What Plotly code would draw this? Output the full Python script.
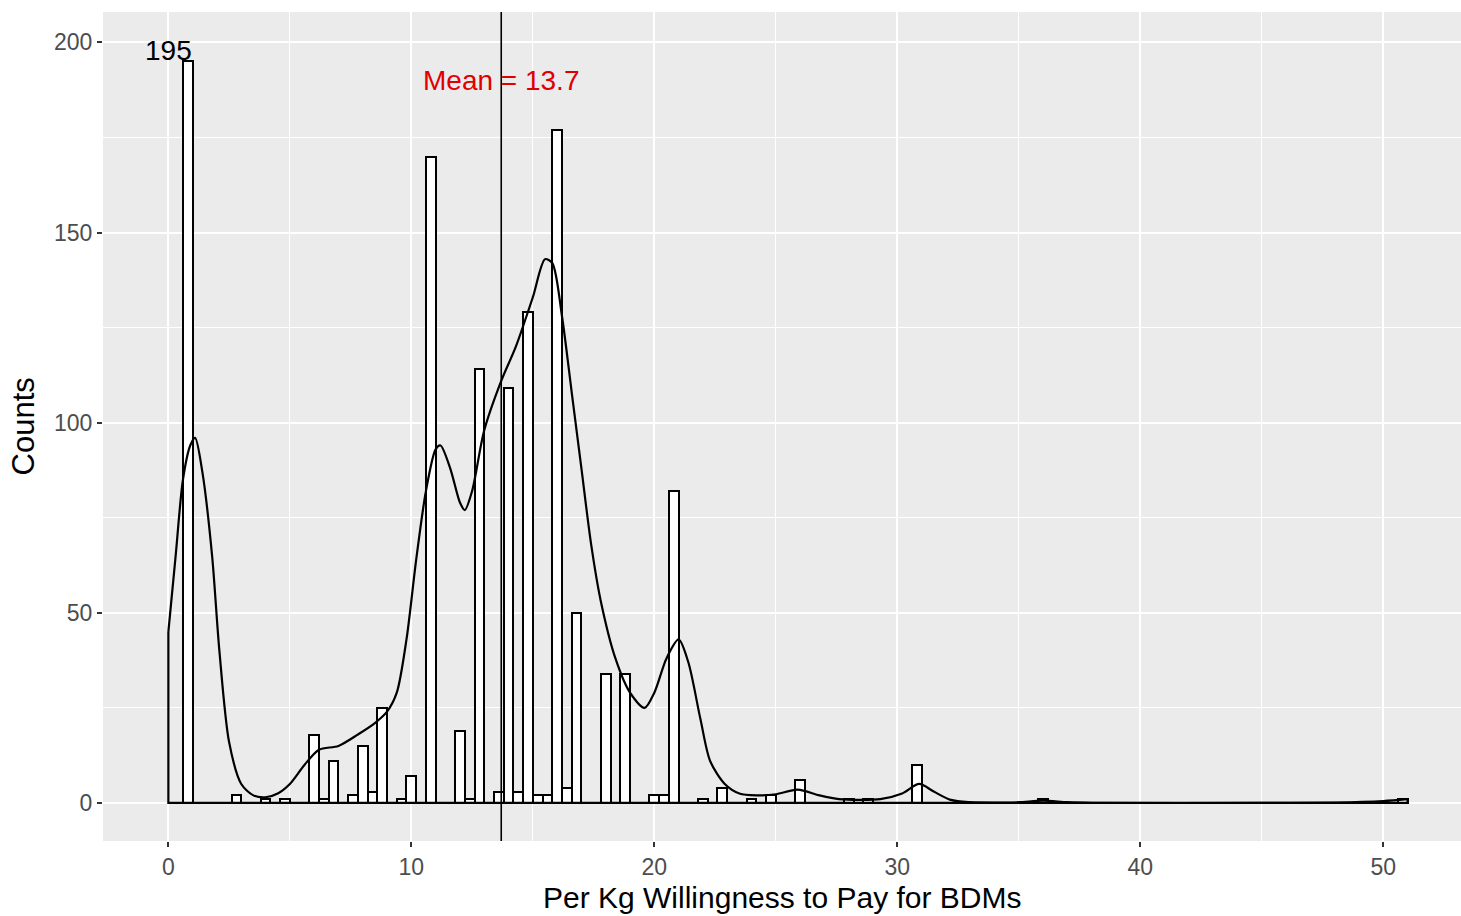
import plotly.graph_objects as go

# ---- data ----
bin_width = 0.4
bin_centers = [0.8, 2.8, 4.0, 4.8, 6.0, 6.4, 6.8, 7.6, 8.0, 8.4, 8.8, 9.6, 10.0, 10.8,
               12.0, 12.4, 12.8, 13.6, 14.0, 14.4, 14.8, 15.2, 15.6, 16.0, 16.4, 16.8,
               18.0, 18.8, 20.0, 20.4, 20.8, 22.0, 22.8, 24.0, 24.8, 26.0, 28.0, 28.8,
               30.8, 36.0, 50.8]
bin_counts = [195, 2, 1, 1, 18, 1, 11, 2, 15, 3, 25, 1, 7, 170,
              19, 1, 114, 3, 109, 3, 129, 2, 2, 177, 4, 50,
              34, 34, 2, 2, 82, 1, 4, 1, 2, 6, 1, 1,
              10, 1, 1]

dens_x = [0, 0.3, 0.6, 0.9, 1.1, 1.4, 1.8, 2.1, 2.5, 3.0, 3.5, 4.0, 4.5, 5.0, 5.6, 6.2,
          7.0, 7.8, 8.5, 9.0, 9.4, 9.8, 10.2, 10.6, 11.0, 11.2, 11.6, 12.0, 12.2, 12.5,
          13.0, 13.7, 14.3, 15.0, 15.5, 15.8, 16.2, 16.6, 17.0, 17.4, 17.8, 18.4, 19.0,
          19.6, 20.0, 20.5, 21.0, 21.4, 21.9, 22.3, 22.9, 23.5, 24.2, 25.0, 25.9, 26.8,
          27.6, 28.5, 29.3, 30.2, 30.9, 31.5, 32.2, 33.0, 34.0, 35.0, 36.0, 37.0, 38.0,
          45.0, 48.0, 50.0, 51.0]
dens_y = [45, 65, 85, 94, 96, 87, 65, 40, 16, 5, 2, 1.5, 2.5, 5, 10, 14,
          15, 18, 21, 24, 29, 43, 64, 82, 93, 94, 88, 79, 77, 82,
          98, 111, 120, 133, 143, 142, 128, 108, 88, 68, 53, 38, 29,
          25, 29, 38, 43, 37, 22, 11, 5, 2.5, 2, 2.3, 3.5, 2,
          1, 0.8, 1, 2.5, 5, 3, 0.8, 0.2, 0.1, 0.2, 0.6, 0.2, 0.05,
          0, 0.1, 0.5, 1.0]

mean_value = 13.7
max_count = max(bin_counts)
max_center = bin_centers[bin_counts.index(max_count)]

x_major = [0, 10, 20, 30, 40, 50]
x_minor = [5, 15, 25, 35, 45]
y_major = [0, 50, 100, 150, 200]
y_minor = [25, 75, 125, 175]

FONT = "Liberation Sans, Arial, sans-serif"

fig = go.Figure()

fig.add_trace(go.Bar(
    x=bin_centers, y=bin_counts, width=[bin_width] * len(bin_centers),
    marker=dict(color="white", line=dict(color="black", width=2)),
    showlegend=False, hoverinfo="x+y"))

# density outline (closed at the ends like the original)
fig.add_trace(go.Scatter(
    x=[dens_x[0], dens_x[0], dens_x[-1], dens_x[-1]],
    y=[dens_y[0], 0, 0, dens_y[-1]],
    mode="lines", line=dict(color="black", width=2.2), showlegend=False))
fig.add_trace(go.Scatter(
    x=dens_x, y=dens_y, mode="lines",
    line=dict(color="black", width=2.2, shape="spline", smoothing=0.8),
    showlegend=False))

fig.add_vline(x=mean_value, line=dict(color="black", width=1.6))

fig.add_annotation(x=max_center - 0.8, y=max_count + 3, text=str(max_count), showarrow=False,
                   font=dict(family=FONT, size=28, color="black"))
fig.add_annotation(x=mean_value, y=190, text=f"Mean = {mean_value}", showarrow=False,
                   font=dict(family=FONT, size=28, color="#e00000"))

# axis titles
fig.add_annotation(xref="paper", yref="paper", x=0.5, y=-0.0676, yanchor="middle",
                   text="Per Kg Willingness to Pay for BDMs", showarrow=False,
                   font=dict(family=FONT, size=30, color="black"))
fig.add_annotation(xref="paper", yref="paper", x=-0.0582, y=0.5, xanchor="center",
                   text="Counts", textangle=-90, showarrow=False,
                   font=dict(family=FONT, size=31, color="black"))

fig.update_layout(
    width=1461, height=916,
    margin=dict(l=103, r=0, t=12, b=75, autoexpand=False),
    paper_bgcolor="white", plot_bgcolor="#ebebeb",
    font=dict(family=FONT, color="black"),
    bargap=0,
)
fig.update_xaxes(
    range=[-2.69, 53.2], tickvals=x_major, ticks="outside", ticklen=5, tickwidth=1.5,
    tickcolor="#333333", tickfont=dict(family=FONT, size=23, color="#4d4d4d"),
    showgrid=True, gridcolor="white", gridwidth=2.2,
    minor=dict(tickvals=x_minor, showgrid=True, gridcolor="white", gridwidth=1.1),
    zeroline=False, showline=False, automargin=False,
)
fig.update_yaxes(
    range=[-10, 208], tickvals=y_major, ticks="outside", ticklen=5, tickwidth=1.5,
    tickcolor="#333333", tickfont=dict(family=FONT, size=23, color="#4d4d4d"),
    showgrid=True, gridcolor="white", gridwidth=2.2,
    minor=dict(tickvals=y_minor, showgrid=True, gridcolor="white", gridwidth=1.1),
    zeroline=False, showline=False, automargin=False,
)

fig.write_html(
    "out.html",
    config={"displayModeBar": False},
    post_script="document.body.style.margin='0px';document.body.style.overflow='hidden';",
)
